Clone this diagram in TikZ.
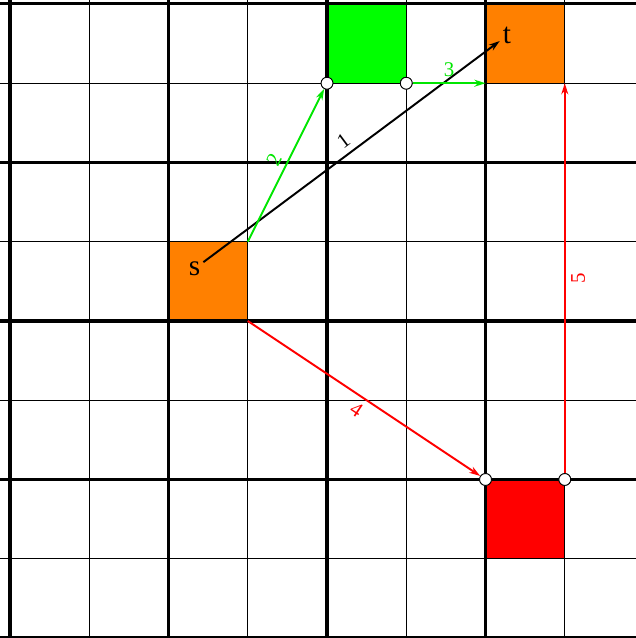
\documentclass[tikz,border=0pt]{standalone}
\usepackage{fontspec}
\setmainfont{Liberation Serif}
\usetikzlibrary{arrows.meta}
\tikzset{
  thinline/.style={line width=0.8pt, black},
  thickline/.style={line width=2.2pt, black},
  pt/.style={circle, draw=black, fill=white, line width=0.6pt, inner sep=0pt, minimum size=8.5pt},
  greenedge/.style={draw={rgb,255:red,0;green,230;blue,0}, line width=1.4pt, -{Stealth[length=8pt,width=5pt]}},
  rededge/.style={draw={rgb,255:red,255;green,0;blue,0}, line width=1.4pt, -{Stealth[length=8pt,width=5pt]}},
  blackedge/.style={draw=black, line width=1.4pt, -{Stealth[length=8pt,width=5pt]}},
  lbl/.style={font=\fontsize{15}{16}\selectfont, sloped, inner sep=4pt},
  endlbl/.style={font=\fontsize{21}{24}\selectfont, inner sep=2pt}
}
\definecolor{myorange}{RGB}{255,128,0}
\definecolor{mygreen}{RGB}{0,255,0}
\definecolor{myred}{RGB}{255,0,0}
\definecolor{lblgreen}{RGB}{0,230,0}
\begin{document}
\begin{tikzpicture}[x=2cm,y=2cm]
\useasboundingbox (-0.126,0) rectangle (7.897,8.05);
\clip (-0.126,0) rectangle (7.897,8.05);
% filled cells
\fill[myorange] (2,4) rectangle (3,5);
\fill[myorange] (6,7) rectangle (7,8);
\fill[mygreen] (4,7) rectangle (5,8);
\fill[myred] (6,1) rectangle (7,2);
% grid
\foreach \i in {1,3,5,7} {
  \draw[thinline] (\i,-1) -- (\i,9);
  \draw[thinline] (-1,\i) -- (9,\i);
}
\foreach \i in {0,2,4,6,8} {
  \draw[thickline] (\i,-1) -- (\i,9);
  \draw[thickline] (-1,\i) -- (9,\i);
}
% nodes
\node[endlbl] (s) at (2.33,4.66) {s};
\node[endlbl] (t) at (6.27,7.6) {t};
\node[pt] (p1) at (4,7) {};
\node[pt] (p2) at (5,7) {};
\node[pt] (p3) at (6,2) {};
\node[pt] (p4) at (7,2) {};
\coordinate (c1) at (3,5);
\coordinate (c2) at (6,7);
\coordinate (c3) at (3,4);
\coordinate (c4) at (7,7);
% edges
\draw[blackedge] (s) -- node[lbl, above, text=black] {1} (t);
\draw[greenedge] (c1) -- node[lbl, above, text=lblgreen] {2} (p1);
\draw[greenedge] (p2) -- node[lbl, above, text=lblgreen] {3} (c2);
\draw[rededge] (c3) -- node[lbl, below, text=myred] {4} (p3);
\draw[rededge] (p4) -- node[lbl, below, text=myred] {5} (c4);
% redraw circles on top
\node[pt] at (p1) {};
\node[pt] at (p2) {};
\node[pt] at (p3) {};
\node[pt] at (p4) {};
\end{tikzpicture}
\end{document}
